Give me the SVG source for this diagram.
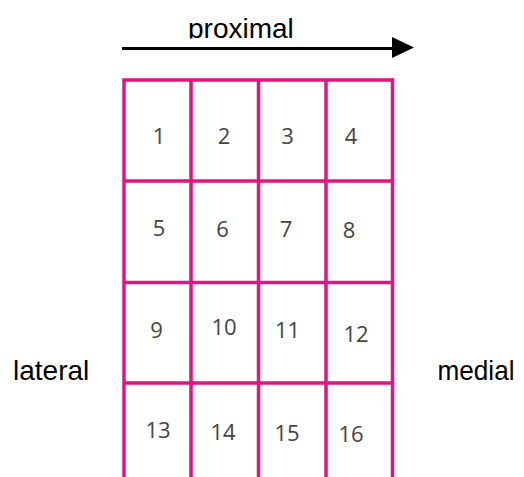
<svg xmlns="http://www.w3.org/2000/svg" width="524" height="477" viewBox="0 0 524 477">
  <style>
    .label { font-family: "Liberation Sans", Arial, sans-serif; font-size: 28px; fill: #000; }
    .num { font-family: "Open Sans", "DejaVu Sans", sans-serif; font-weight: 400; font-size: 22px; fill: #444; text-anchor: middle; }
    .grid { fill: none; stroke: #E0157F; stroke-width: 3.5; }
  </style>
  <defs>
    <clipPath id="top-clip">
      <rect x="0" y="0" width="524" height="38.5"/>
    </clipPath>
  </defs>
  <rect width="524" height="477" fill="#fff"/>

  <!-- direction arrow -->
  <g id="connectors">
    <line x1="122" y1="48.5" x2="394" y2="48.5" stroke="#000" stroke-width="3"/>
    <polygon points="392,37 414,47.5 392,58" fill="#000"/>
  </g>

  <!-- axis labels -->
  <g id="label-proximal" clip-path="url(#top-clip)">
    <text class="label" x="188" y="37.5" font-size="28.5">proximal</text>
  </g>
  <g id="label-lateral">
    <text class="label" x="13" y="380">lateral</text>
  </g>
  <g id="label-medial">
    <text class="label" x="437.5" y="380" textLength="77" lengthAdjust="spacingAndGlyphs">medial</text>
  </g>

  <!-- 4x4 grid, open at the bottom -->
  <g id="grid">
    <path class="grid" d="M124,477 V80 H392.5 V477 M191,80 V477 M258.5,80 V477 M326,80 V477 M124,181 H392.5 M124,282.5 H392.5 M124,383 H392.5"/>
  </g>

  <!-- cell numbers -->
  <g id="cell-1"><text class="num" x="159" y="143.5">1</text></g>
  <g id="cell-2"><text class="num" x="224" y="143.5">2</text></g>
  <g id="cell-3"><text class="num" x="287.5" y="143.5">3</text></g>
  <g id="cell-4"><text class="num" x="351" y="143.5">4</text></g>

  <g id="cell-5"><text class="num" x="159" y="236">5</text></g>
  <g id="cell-6"><text class="num" x="222.5" y="237">6</text></g>
  <g id="cell-7"><text class="num" x="286" y="237">7</text></g>
  <g id="cell-8"><text class="num" x="349" y="238">8</text></g>

  <g id="cell-9"><text class="num" x="156.5" y="338">9</text></g>
  <g id="cell-10"><text class="num" x="224" y="335">10</text></g>
  <g id="cell-11"><text class="num" x="287.5" y="338">11</text></g>
  <g id="cell-12"><text class="num" x="356" y="342">12</text></g>

  <g id="cell-13"><text class="num" x="158" y="438">13</text></g>
  <g id="cell-14"><text class="num" x="223" y="440">14</text></g>
  <g id="cell-15"><text class="num" x="287" y="441">15</text></g>
  <g id="cell-16"><text class="num" x="351" y="442">16</text></g>
</svg>
